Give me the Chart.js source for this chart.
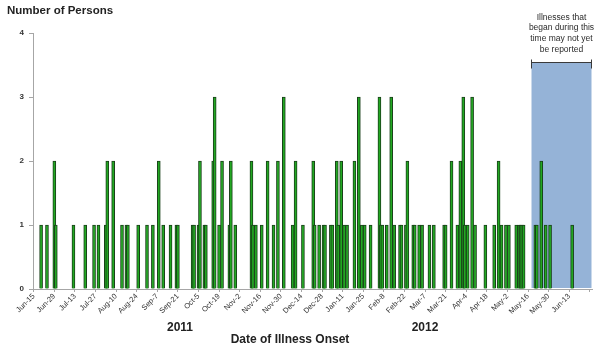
<!DOCTYPE html>
<html>
<head>
<meta charset="utf-8">
<script src="https://cdn.jsdelivr.net/npm/chart.js@4"></script>
<style>
  html, body { margin: 0; padding: 0; background: #fff; }
  #wrap { width: 600px; height: 353px; }
</style>
</head>
<body>
<div id="wrap"><canvas id="epiChart"></canvas></div>
<script>
// Days counted from Jun 15, 2011 (day 0) and number of persons with onset that day
const onsetDays = [5, 9, 14, 15, 27, 35, 41, 44, 49, 50, 54, 60, 63, 64, 71,
  77, 81, 85, 88, 93, 97, 98, 108, 109, 112, 113, 116, 117, 122, 123, 126, 128, 133, 134, 137, 148, 149, 151,
  155, 159, 163, 166, 170, 176, 178, 183, 190, 191, 194, 197, 198, 202, 203, 206, 207, 209, 211, 213, 218, 221, 223, 225, 229,
  235, 236, 237, 240, 243, 245, 249, 250, 253, 254, 258, 259, 262, 264, 269, 272, 279, 280, 284, 288, 290, 292, 293, 295, 298, 300,
  307, 313, 316, 318, 321, 323, 328, 330, 331, 332, 333, 341, 342, 345, 348, 351, 366];
const personCounts = [1, 1, 2, 1, 1, 1, 1, 1, 1, 2, 2, 1, 1, 1, 1,
  1, 1, 2, 1, 1, 1, 1, 1, 1, 1, 2, 1, 1, 2, 3, 1, 2, 1, 2, 1, 2, 1, 1,
  1, 2, 1, 2, 3, 1, 2, 1, 2, 1, 1, 1, 1, 1, 1, 2, 1, 2, 1, 1, 2, 3, 1, 1, 1,
  3, 1, 1, 1, 3, 1, 1, 1, 1, 2, 1, 1, 1, 1, 1, 1, 1, 1, 2, 1, 2, 3, 1, 1, 3, 1,
  1, 1, 2, 1, 1, 1, 1, 1, 1, 1, 1, 1, 1, 2, 1, 1, 1];
const tickLabels = ['Jun-15', 'Jun-29', 'Jul-13', 'Jul-27', 'Aug-10', 'Aug-24', 'Sep-7', 'Sep-21',
  'Oct-5', 'Oct-19', 'Nov-2', 'Nov-16', 'Nov-30', 'Dec-14', 'Dec-28', 'Jan-11', 'Jan-25',
  'Feb-8', 'Feb-22', 'Mar-7', 'Mar-21', 'Apr-4', 'Apr-18', 'May-2', 'May-16', 'May-30', 'Jun-13'];
const yearLabels = ['2011', '2012'];
const dayCount = 380;
const tickEvery = 14;
const lagStartDay = 338;
const lagTopValue = 3.55;
const lagNote = ['Illnesses that', 'began during this', 'time may not yet', 'be reported'];

const days = [];
const values = [];
for (let i = 0; i < dayCount; i++) {
  days.push(i);
  values.push(null);
}
onsetDays.forEach((d, i) => { values[d] = personCounts[i]; });

const FONT = "'Liberation Sans', Arial, sans-serif";

// Shaded reporting-lag box drawn behind the bars
const lagShade = {
  id: 'lagShade',
  beforeDatasetsDraw(chart) {
    const { ctx, chartArea, scales: { x, y } } = chart;
    const left = Math.round(x.getPixelForValue(lagStartDay)) + 0.5;
    const right = chartArea.right - 0.5;
    const top = Math.round(y.getPixelForValue(lagTopValue)) + 0.5;
    const bottom = chartArea.bottom - 1;
    ctx.save();
    ctx.fillStyle = '#95b3d7';
    ctx.fillRect(left, top, right - left, bottom - top);
    ctx.strokeStyle = '#3a3a3a';
    ctx.lineWidth = 1;
    ctx.beginPath();
    ctx.moveTo(left, top);
    ctx.lineTo(right, top);
    ctx.moveTo(left, top - 3);
    ctx.lineTo(left, top + 6);
    ctx.moveTo(right, top - 3);
    ctx.lineTo(right, top + 6);
    ctx.stroke();

    ctx.fillStyle = '#2a2a2a';
    ctx.font = '8.5px ' + FONT;
    ctx.textAlign = 'center';
    ctx.textBaseline = 'middle';
    const cx = (left + right) / 2;
    lagNote.forEach((line, i) => {
      ctx.fillText(line, cx, top - 45 + i * 10.6);
    });
    ctx.restore();
  }
};

// Titles and year labels
const titles = {
  id: 'titles',
  afterDraw(chart) {
    const { ctx } = chart;
    ctx.save();
    ctx.fillStyle = '#222';
    ctx.textBaseline = 'middle';
    ctx.font = 'bold 11.5px ' + FONT;
    ctx.textAlign = 'left';
    ctx.fillText('Number of Persons', 7, 11);
    ctx.textAlign = 'center';
    ctx.font = 'bold 12px ' + FONT;
    ctx.fillText(yearLabels[0], 180, 328);
    ctx.fillText(yearLabels[1], 425, 328);
    ctx.fillText('Date of Illness Onset', 290, 340);
    ctx.restore();
  }
};

new Chart(document.getElementById('epiChart'), {
  type: 'bar',
  data: {
    labels: days,
    datasets: [{
      data: values,
      backgroundColor: '#22a822',
      borderColor: '#1a401a',
      borderWidth: 1,
      barThickness: 3,
      grouped: false
    }]
  },
  options: {
    responsive: true,
    maintainAspectRatio: false,
    animation: false,
    layout: { padding: { top: 33, right: 8, bottom: 24, left: 0 } },
    plugins: {
      legend: { display: false },
      tooltip: { enabled: false }
    },
    scales: {
      x: {
        afterBuildTicks: scale => {
          scale.ticks = scale.ticks.filter(t => t.value % tickEvery === 0);
        },
        afterFit: scale => { scale.height = 40; },
        grid: {
          display: true,
          drawOnChartArea: false,
          offset: false,
          tickLength: 3,
          color: '#a6a6a6'
        },
        border: { color: '#a6a6a6' },
        ticks: {
          autoSkip: false,
          maxRotation: 45,
          minRotation: 45,
          padding: 0,
          color: '#333',
          font: { family: FONT, size: 7.5 },
          callback: function (value) {
            return tickLabels[value / tickEvery] || '';
          }
        }
      },
      y: {
        min: 0,
        max: 4,
        afterFit: scale => { scale.width = 33; },
        grid: {
          drawOnChartArea: false,
          tickLength: 4,
          color: '#a6a6a6'
        },
        border: { color: '#a6a6a6' },
        ticks: {
          stepSize: 1,
          padding: 5,
          color: '#333',
          font: { family: FONT, size: 8, weight: 'bold' }
        }
      }
    }
  },
  plugins: [lagShade, titles]
});
</script>
</body>
</html>
